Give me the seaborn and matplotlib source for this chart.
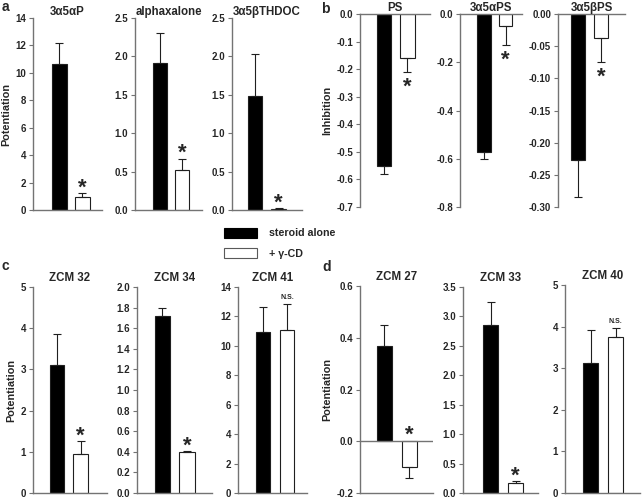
import numpy as np
import pandas as pd
import matplotlib
matplotlib.use("Agg")
import matplotlib.pyplot as plt
from matplotlib.patches import Patch
import seaborn as sns

# ---------------- data ----------------
conds = ["steroid alone", "+ γ-CD"]

a_titles = ["3α5αP", "alphaxalone", "3α5βTHDOC"]
a_means = [[10.65, 0.93], [1.91, 0.52], [1.48, 0.01]]
a_sems = [[1.52, 0.29], [0.39, 0.15], [0.55, 0.015]]
a_sig = ["*", "*", "*"]

b_titles = ["PS", "3α5αPS", "3α5βPS"]
b_means = [[-0.55, -0.16], [-0.572, -0.048], [-0.227, -0.038]]
b_sems = [[0.03, 0.05], [0.028, 0.08], [0.057, 0.036]]
b_sig = ["*", "*", "*"]

c_titles = ["ZCM 32", "ZCM 34", "ZCM 41"]
c_means = [[3.10, 0.94], [1.716, 0.397], [10.91, 11.05]]
c_sems = [[0.75, 0.33], [0.081, 0.013], [1.7, 1.82]]
c_sig = ["*", "*", "N.S."]

d_titles = ["ZCM 27", "ZCM 33", "ZCM 40"]
d_means = [[0.369, -0.0996], [2.85, 0.17], [3.126, 3.74]]
d_sems = [[0.082, 0.041], [0.396, 0.027], [0.80, 0.23]]
d_sig = ["*", "*", "N.S."]

panel_letters = ["a", "b", "c", "d"]

# ---------------- style ----------------
sns.set_style("ticks")
plt.rcParams["font.family"] = ["Liberation Sans", "DejaVu Sans"]
plt.rcParams["font.weight"] = "bold"
plt.rcParams["axes.unicode_minus"] = False

W, H = 642, 499
fig = plt.figure(figsize=(W / 100, H / 100), dpi=100)

SPINE = "0.45"
INK = "0.12"

def rect(x0, x1, ytop, ybot):
    return [x0 / W, 1 - ybot / H, (x1 - x0) / W, (ybot - ytop) / H]

# layout (pixels) : x0, x1, ytop, ybot
layout = {
    "a": [(33, 102, 18, 210), (135, 202, 18, 210), (232, 302, 18, 210)],
    "b": [(360, 430, 14, 207), (460, 522, 14, 207), (558, 625, 14, 207)],
    "c": [(33, 107, 287, 493), (137, 212, 287, 493), (238, 307, 287, 493)],
    "d": [(360, 433, 286, 493), (463, 538, 287, 493), (565, 640, 285, 493)],
}
yaxes = {
    "a": [(0, 14, 2, "{:.0f}"), (0, 2.5, 0.5, "{:.1f}"), (0, 2.5, 0.5, "{:.1f}")],
    "b": [(-0.7, 0, 0.1, "{:.1f}"), (-0.8, 0, 0.2, "{:.1f}"), (-0.30, 0, 0.05, "{:.2f}")],
    "c": [(0, 5, 1, "{:.0f}"), (0, 2.0, 0.2, "{:.1f}"), (0, 14, 2, "{:.0f}")],
    "d": [(-0.2, 0.6, 0.2, "{:.1f}"), (0, 3.5, 0.5, "{:.1f}"), (0, 5, 1, "{:.0f}")],
}
xlims = {
    "a": [(-1.15, 1.85), (-1.11, 1.87), (-0.98, 2.0)],
    "b": [(-1.02, 1.96), (-1.09, 1.75), (-0.87, 2.04)],
    "c": [(-1.01, 2.11), (-1.04, 2.02), (-1.04, 1.83)],
    "d": [(-0.98, 1.94), (-1.1, 1.9), (-1.02, 1.98)],
}
data = {
    "a": (a_titles, a_means, a_sems, a_sig, "Potentiation"),
    "b": (b_titles, b_means, b_sems, b_sig, "Inhibition"),
    "c": (c_titles, c_means, c_sems, c_sig, "Potentiation"),
    "d": (d_titles, d_means, d_sems, d_sig, "Potentiation"),
}

palette = {conds[0]: "black", conds[1]: "white"}

for p in panel_letters:
    titles, means, sems, sigs, ylab = data[p]
    for i in range(3):
        ax = fig.add_axes(rect(*layout[p][i]))
        df = pd.DataFrame({"cond": conds, "value": means[i]})
        sns.barplot(data=df, x="cond", y="value", hue="cond", palette=palette,
                    width=0.62, edgecolor=INK, linewidth=0.8, legend=False, ax=ax)
        m = np.array(means[i])
        s = np.array(sems[i])
        lower = np.where(m < 0, s, 0)
        upper = np.where(m >= 0, s, 0)
        ax.errorbar([0, 1], m, yerr=[lower, upper], fmt="none", ecolor=INK,
                    elinewidth=0.8, capsize=3, capthick=0.8, zorder=5)
        lo, hi, step, fmt = yaxes[p][i]
        ticks = np.arange(lo, hi + step / 2, step)
        ax.set_ylim(lo, hi)
        ax.set_yticks(ticks)
        ax.set_yticklabels([fmt.format(t) if abs(t) > 1e-9 else fmt.format(0) for t in ticks],
                           fontweight="bold", fontsize=7)
        ax.set_xlim(*xlims[p][i])
        ax.set_xticks([])
        ax.set_xlabel("")
        ax.set_ylabel("")
        ax.tick_params(axis="y", direction="out", length=3, width=0.8, color=SPINE, pad=2)
        ax.spines["right"].set_visible(False)
        for sp in ["left", "bottom", "top"]:
            ax.spines[sp].set_color(SPINE)
            ax.spines[sp].set_linewidth(1.0)
        if hi <= 0:
            ax.spines["bottom"].set_visible(False)
        else:
            ax.spines["top"].set_visible(False)
        if lo < 0 < hi:
            ax.axhline(0, color=SPINE, lw=1.0, zorder=1)
        # title
        ax.set_title(titles[i], fontsize=8.3, fontweight="bold",
                     pad=1.5 if p in "ab" else 4)
        # significance marks on the second bar
        sig = sigs[i]
        if sig == "*":
            if hi <= 0:
                ax.annotate("*", (1, m[1] - s[1]), xytext=(0, -3.5), textcoords="offset points",
                            ha="center", va="top", fontsize=16, fontweight="bold")
            elif m[1] > 0:
                ax.annotate("*", (1, m[1] + s[1]), xytext=(0, -4), textcoords="offset points",
                            ha="center", va="bottom", fontsize=16, fontweight="bold")
            else:
                ax.annotate("*", (1, 0), xytext=(0, -3), textcoords="offset points",
                            ha="center", va="bottom", fontsize=16, fontweight="bold")
        else:
            ax.annotate(sig, (1, m[1] + s[1]), xytext=(0, 2), textcoords="offset points",
                        ha="center", va="bottom", fontsize=5, fontweight="bold")
        if i == 0:
            ax.set_ylabel(ylab, fontsize=7.8, fontweight="bold", labelpad=3)

# panel letters
fig.text(2 / W, 1 - 7 / H, "a", fontsize=10, fontweight="bold", va="center")
fig.text(321 / W, 1 - 9 / H, "b", fontsize=10, fontweight="bold", va="center")
fig.text(2 / W, 1 - 266 / H, "c", fontsize=10, fontweight="bold", va="center")
fig.text(322 / W, 1 - 267 / H, "d", fontsize=10, fontweight="bold", va="center")

handles = [Patch(facecolor="black", edgecolor="black", linewidth=0.8),
           Patch(facecolor="white", edgecolor="0.35", linewidth=0.8)]
fig.legend(handles, conds, loc="upper left", bbox_to_anchor=(224 / W, 1 - 228 / H),
           frameon=False, handlelength=3.1, handleheight=1.0,
           handletextpad=1.1, labelspacing=0.9, borderpad=0, borderaxespad=0,
           prop={"weight": "bold", "size": 7.7})

fig.savefig("out.png", dpi=100)
